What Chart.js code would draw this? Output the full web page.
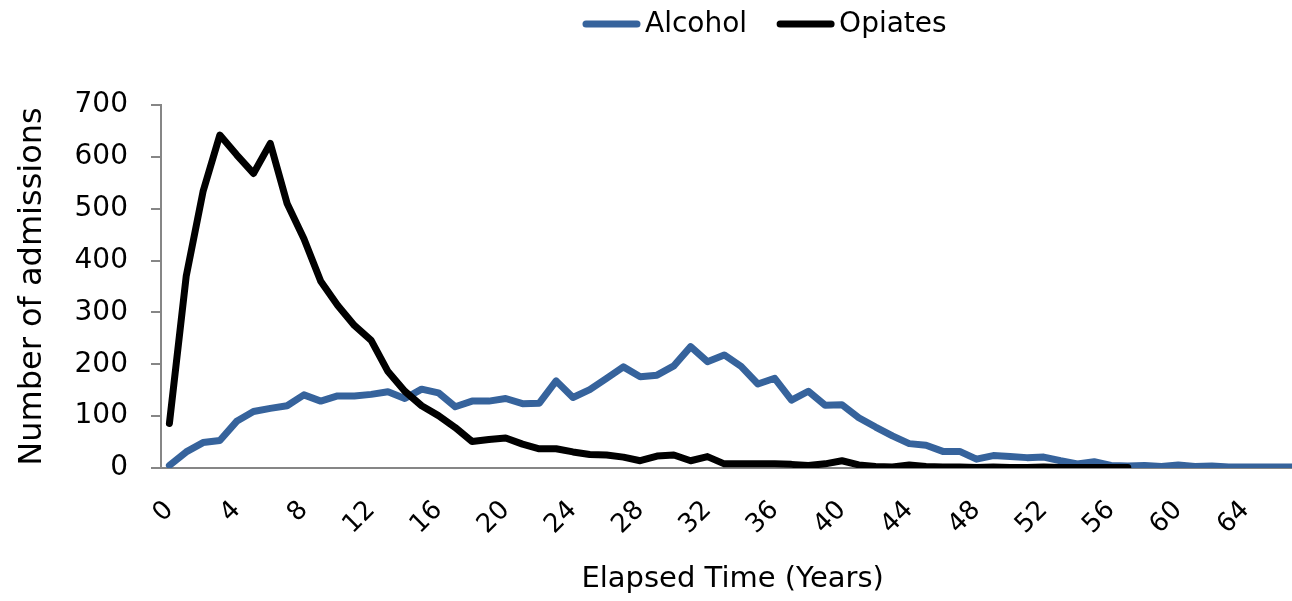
<!DOCTYPE html>
<html lang="en">
<head>
    <meta charset="UTF-8">
    <title>Admissions by Elapsed Time</title>
    <script src="https://cdn.jsdelivr.net/npm/chart.js"></script>
    <style>
        html, body {
            margin: 0;
            padding: 0;
            overflow: hidden;
            background: #fff;
        }
        .chart-wrap {
            position: relative;
            width: 1337px;
            height: 601px;
        }
    </style>
</head>
<body>
    <div class="chart-wrap">
        <canvas id="admissionsChart"></canvas>
    </div>
    <script>
        // elapsed years (categories)
        const years = [0, 1, 2, 3, 4, 5, 6, 7, 8, 9, 10, 11, 12, 13, 14, 15, 16, 17, 18, 19,
            20, 21, 22, 23, 24, 25, 26, 27, 28, 29, 30, 31, 32, 33, 34, 35, 36, 37, 38, 39,
            40, 41, 42, 43, 44, 45, 46, 47, 48, 49, 50, 51, 52, 53, 54, 55, 56, 57, 58, 59,
            60, 61, 62, 63, 64, 65, 66, 67];

        // only every fourth year is labelled
        const shownYears = [0, 4, 8, 12, 16, 20, 24, 28, 32, 36, 40, 44, 48, 52, 56, 60, 64];

        const alcohol = [5, 31, 49, 53, 90, 109, 115, 120, 141, 129, 139, 139, 142, 147, 134, 152, 145, 118, 129, 129,
            134, 124, 125, 168, 136, 151, 173, 195, 176, 179, 197, 234, 205, 218, 196, 162, 173, 131, 148, 121,
            122, 97, 79, 62, 47, 44, 32, 32, 17, 24, 22, 20, 21, 14, 8, 12, 5, 4, 5, 3,
            6, 3, 4, 2, 2, 2, 2, 2];

        const opiates = [86, 370, 533, 642, 604, 568, 626, 510, 442, 360, 314, 275, 246, 186, 148, 120, 101, 78, 51, 55,
            58, 46, 37, 37, 31, 26, 25, 21, 14, 23, 25, 14, 22, 8, 8, 8, 8, 7, 5, 8,
            14, 6, 3, 2, 6, 3, 2, 2, 1, 2, 1, 1, 2, 1, 1, 1, 1, 1];

        const legendOrder = ['Alcohol', 'Opiates'];

        Chart.defaults.font.family = '"DejaVu Sans", sans-serif';
        Chart.defaults.color = '#000';

        // legend drawn at the top, like the original
        const topLegend = {
            id: 'topLegend',
            afterDraw(chart) {
                const ctx = chart.ctx;
                const y = 24;
                let x = 583;
                ctx.save();
                ctx.font = '28px "DejaVu Sans", sans-serif';
                ctx.textBaseline = 'middle';
                legendOrder.forEach(label => {
                    const ds = chart.data.datasets.find(d => d.label === label);
                    ctx.strokeStyle = ds.borderColor;
                    ctx.lineWidth = 7;
                    ctx.lineCap = 'round';
                    ctx.beginPath();
                    ctx.moveTo(x + 3, y);
                    ctx.lineTo(x + 54, y);
                    ctx.stroke();
                    ctx.fillStyle = '#000';
                    ctx.fillText(label, x + 62, y + 1);
                    x += 62 + ctx.measureText(label).width + 30;
                });
                ctx.restore();
            }
        };

        const axisGrey = '#868686';

        const ctx = document.getElementById('admissionsChart').getContext('2d');
        new Chart(ctx, {
            type: 'line',
            data: {
                labels: years,
                datasets: [{
                    label: 'Alcohol',
                    data: alcohol,
                    borderColor: '#36639C',
                    backgroundColor: '#36639C',
                    borderWidth: 7,
                    pointRadius: 0,
                    borderJoinStyle: 'round',
                    borderCapStyle: 'round',
                    order: 1
                }, {
                    label: 'Opiates',
                    data: opiates,
                    borderColor: '#000000',
                    backgroundColor: '#000000',
                    borderWidth: 7,
                    pointRadius: 0,
                    borderJoinStyle: 'round',
                    borderCapStyle: 'round',
                    order: 0
                }]
            },
            options: {
                responsive: true,
                maintainAspectRatio: false,
                animation: false,
                layout: {
                    padding: { top: 105, left: 0, right: 0, bottom: 0 }
                },
                plugins: {
                    legend: { display: false },
                    tooltip: { enabled: false }
                },
                scales: {
                    x: {
                        offset: true,
                        grid: { display: false },
                        border: { display: true, color: axisGrey, width: 2 },
                        ticks: {
                            autoSkip: false,
                            minRotation: 45,
                            maxRotation: 45,
                            padding: 19,
                            font: { size: 26 },
                            callback: function (value) {
                                const yr = years[value];
                                return shownYears.includes(yr) ? String(yr) : '';
                            }
                        },
                        title: {
                            display: true,
                            text: 'Elapsed Time (Years)',
                            font: { size: 29 },
                            padding: { top: 4, bottom: 4 }
                        },
                        afterFit: s => { s.height = 133; }
                    },
                    y: {
                        min: 0,
                        max: 700,
                        grid: {
                            display: true,
                            drawOnChartArea: false,
                            drawTicks: true,
                            tickLength: 10,
                            color: axisGrey,
                            lineWidth: 2
                        },
                        border: { display: true, color: axisGrey, width: 2 },
                        ticks: {
                            stepSize: 100,
                            padding: 23,
                            font: { size: 28 }
                        },
                        title: {
                            display: true,
                            text: 'Number of admissions',
                            font: { size: 32 },
                            padding: { top: 13, bottom: 4 }
                        },
                        afterFit: s => { s.width = 161; }
                    }
                }
            },
            plugins: [topLegend]
        });
    </script>
</body>
</html>
